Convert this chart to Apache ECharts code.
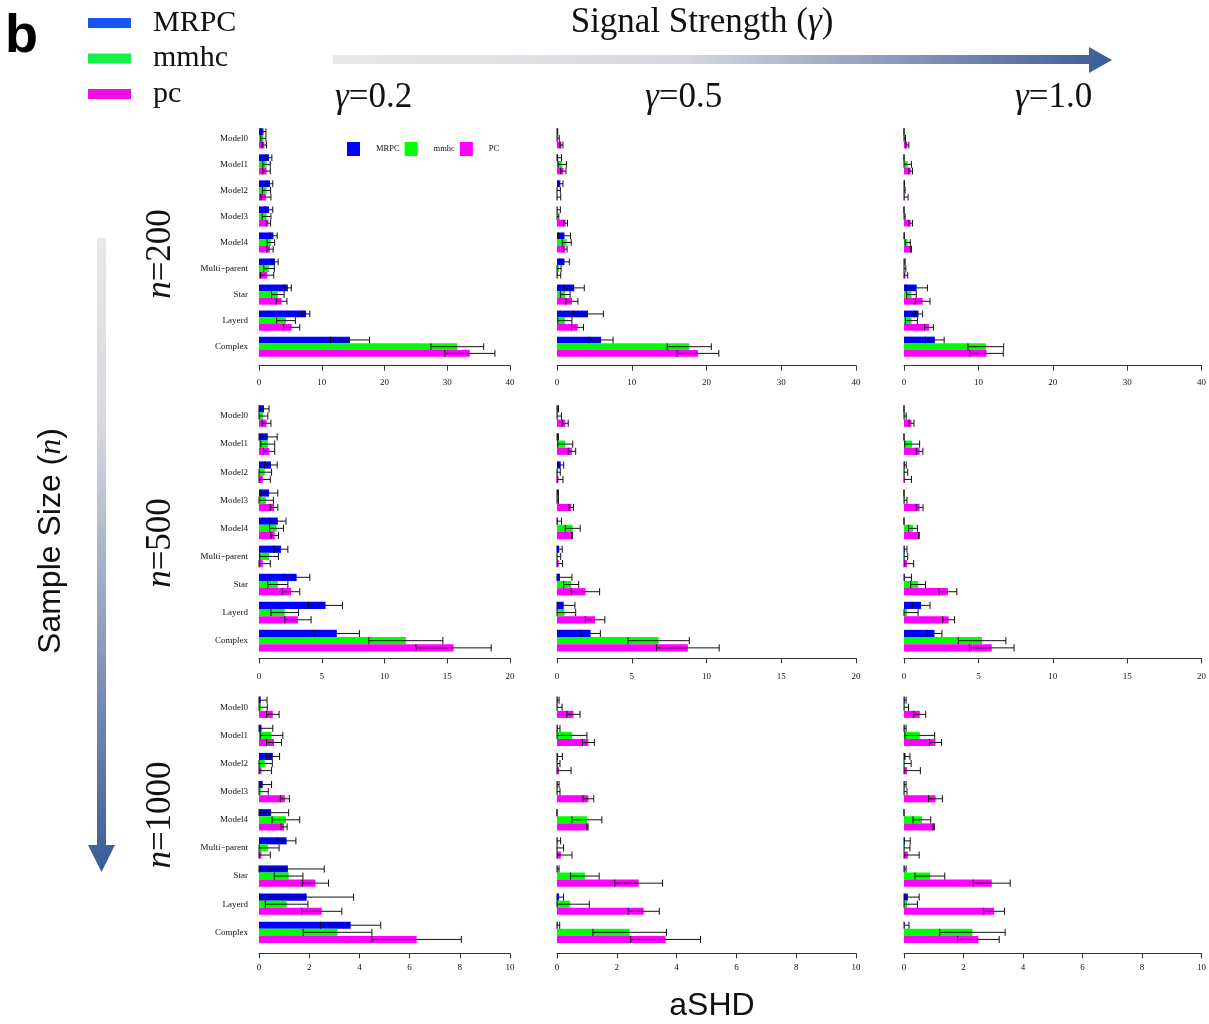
<!DOCTYPE html>
<html>
<head>
<meta charset="utf-8">
<script src="https://cdn.jsdelivr.net/npm/echarts@6/dist/echarts.min.js"></script>
<style>
  html, body { margin: 0; padding: 0; background: #fff; }
  #chart { width: 1209px; height: 1024px; }
</style>
</head>
<body>
<div id="chart"></div>
<script>
// categories and methods
const categories = ['Model0', 'Model1', 'Model2', 'Model3', 'Model4', 'Multi\u2212parent', 'Star', 'Layerd', 'Complex'];
const methods = ['MRPC', 'mmhc', 'pc'];
const signalLabels = ['0.2', '0.5', '1.0'];
const sampleLabels = ['200', '500', '1000'];

// x axis ranges per sample-size row
const xMax = [40, 20, 10];
const xStep = [10, 5, 2];

// panels in row order: n=200 (γ=0.2, 0.5, 1.0), n=500 (...), n=1000 (...)
const mrpcMean = [
  [0.7, 1.6, 1.75, 1.6, 2.3, 2.55, 4.6, 7.5, 14.5],
  [0.05, 0.15, 0.45, 0.05, 1.0, 1.0, 2.3, 4.15, 5.9],
  [0, 0, 0.02, 0, 0.02, 0.05, 1.7, 1.95, 4.15],
  [0.4, 0.7, 0.95, 0.8, 1.5, 1.75, 3.0, 5.3, 6.2],
  [0.05, 0.05, 0.25, 0.05, 0.05, 0.15, 0.2, 0.45, 2.25],
  [0, 0, 0.05, 0, 0, 0.05, 0.05, 1.15, 2.05],
  [0.07, 0.1, 0.55, 0.15, 0.48, 1.1, 1.15, 1.9, 3.65],
  [0.02, 0.02, 0.03, 0.02, 0, 0.02, 0.02, 0.07, 0.02],
  [0.02, 0.02, 0.05, 0.02, 0, 0.03, 0.02, 0.13, 0.02]
];
const mrpcSd = [
  [0.4, 0.45, 0.45, 0.6, 0.6, 0.5, 0.55, 0.6, 3.1],
  [0.05, 0.45, 0.35, 0.4, 0.8, 0.65, 1.35, 2.05, 1.6],
  [0, 0, 0.05, 0, 0.02, 0.1, 1.45, 0.55, 1.25],
  [0.4, 0.75, 0.5, 0.7, 0.65, 0.55, 1.05, 1.35, 1.8],
  [0.05, 0.05, 0.2, 0.05, 0.25, 0.2, 0.8, 0.75, 0.65],
  [0, 0, 0.1, 0, 0, 0.15, 0.45, 0.6, 0.5],
  [0.25, 0.45, 0.27, 0.35, 0.7, 0.37, 1.45, 1.87, 1.2],
  [0.05, 0.08, 0.15, 0.05, 0, 0.1, 0.05, 0.15, 0.07],
  [0.05, 0.05, 0.15, 0.05, 0, 0.18, 0.05, 0.38, 0.15]
];
const mmhcMean = [
  [0.7, 1.2, 1.2, 1.2, 1.9, 1.6, 3.0, 4.3, 31.6],
  [0.15, 0.7, 0.05, 0.1, 1.3, 0.25, 1.1, 1.05, 17.7],
  [0.1, 0.5, 0.05, 0.05, 0.5, 0.05, 1.0, 1.0, 11.0],
  [0.3, 0.7, 0.45, 0.55, 1.4, 0.8, 1.5, 2.05, 11.7],
  [0.05, 0.55, 0.07, 0.05, 1.05, 0.05, 0.95, 0.5, 6.8],
  [0.05, 0.55, 0.05, 0.05, 0.6, 0.05, 0.95, 0.2, 5.25],
  [0.08, 0.5, 0.23, 0.07, 1.07, 0.35, 1.18, 1.1, 3.13],
  [0.02, 0.5, 0.02, 0.02, 1.0, 0.02, 0.93, 0.43, 2.43],
  [0.02, 0.53, 0.02, 0.02, 0.6, 0.02, 0.87, 0.1, 2.3]
];
const mmhcSd = [
  [0.4, 0.6, 0.65, 0.7, 0.6, 0.85, 1.0, 1.5, 4.2],
  [0.15, 0.55, 0.4, 0.15, 0.6, 0.3, 0.65, 0.95, 2.95],
  [0.1, 0.5, 0.1, 0.1, 0.35, 0.2, 0.65, 0.8, 2.4],
  [0.4, 0.55, 0.55, 0.6, 0.55, 0.75, 0.8, 1.1, 2.95],
  [0.25, 0.5, 0.15, 0.05, 0.5, 0.2, 0.5, 0.75, 2.05],
  [0.1, 0.5, 0.2, 0.15, 0.3, 0.2, 0.5, 0.75, 1.6],
  [0.25, 0.45, 0.3, 0.3, 0.55, 0.45, 0.57, 0.85, 1.37],
  [0.15, 0.5, 0.08, 0.08, 0.5, 0.2, 0.48, 0.65, 1.23],
  [0.13, 0.5, 0.22, 0.08, 0.3, 0.18, 0.5, 0.35, 1.1]
];
const pcMean = [
  [0.85, 1.2, 1.1, 1.5, 1.75, 1.3, 3.6, 5.2, 33.6],
  [0.6, 0.85, 0.05, 1.15, 1.1, 0.1, 2.0, 2.75, 18.85],
  [0.45, 0.9, 0.1, 0.9, 0.95, 0.2, 2.5, 3.35, 11.1],
  [0.6, 0.8, 0.3, 1.2, 1.25, 0.3, 2.55, 3.1, 15.5],
  [0.55, 1.0, 0.1, 0.95, 1.0, 0.12, 1.9, 2.55, 8.75],
  [0.5, 1.05, 0.05, 1.05, 1.0, 0.2, 2.95, 3.0, 5.9],
  [0.55, 0.6, 0.1, 1.03, 1.0, 0.1, 2.25, 2.5, 6.28],
  [0.55, 1.05, 0.07, 1.05, 1.02, 0.13, 2.73, 2.9, 3.63],
  [0.53, 1.06, 0.1, 1.06, 1.0, 0.13, 2.95, 3.03, 2.5]
];
const pcSd = [
  [0.35, 0.6, 0.8, 0.35, 0.5, 1.05, 0.85, 1.3, 4.0],
  [0.2, 0.35, 0.45, 0.25, 0.25, 0.4, 0.8, 0.8, 2.8],
  [0.2, 0.25, 0.45, 0.25, 0.05, 0.3, 1.0, 0.6, 2.25],
  [0.35, 0.45, 0.6, 0.3, 0.3, 0.6, 0.7, 1.05, 3.0],
  [0.2, 0.25, 0.3, 0.15, 0.03, 0.25, 0.95, 0.65, 2.1],
  [0.17, 0.22, 0.45, 0.23, 0.03, 0.45, 0.6, 0.4, 1.5],
  [0.25, 0.3, 0.4, 0.18, 0.12, 0.35, 0.52, 0.8, 1.78],
  [0.22, 0.2, 0.4, 0.18, 0.02, 0.37, 0.8, 0.52, 1.17],
  [0.2, 0.2, 0.45, 0.23, 0.02, 0.38, 0.62, 0.35, 0.7]
];

const means = [mrpcMean, mmhcMean, pcMean];
const sds = [mrpcSd, mmhcSd, pcSd];

// layout (pixels)
const barColors = ['#0000FF', '#00FF00', '#FF00FF'];
const legendColors = ['#1557F1', '#14F24A', '#EE10E2'];
const colLeft = [259, 557, 904];
const colWidth = [251, 299, 298];
const rowTop = [125.3, 402, 693.2];
const rowHeight = [234.4, 252.7, 253.2];
const rowAxisOffset = [6, 3.6, 7];
const rowLabelMargin = [12, 13.5, 10];
const rowBarWidth = [6.7, 7.2, 7.1];

const serif = "'Liberation Serif', 'DejaVu Serif', serif";
const sans = "'Liberation Sans', Arial, sans-serif";

const grids = [], xAxes = [], yAxes = [], series = [];

for (let p = 0; p < 9; p++) {
  const row = Math.floor(p / 3), col = p % 3;
  const bw = rowBarWidth[row];
  grids.push({
    left: colLeft[col], top: rowTop[row],
    width: colWidth[col], height: rowHeight[row],
    containLabel: false
  });
  xAxes.push({
    gridIndex: p, type: 'value', min: 0, max: xMax[row], interval: xStep[row],
    offset: rowAxisOffset[row],
    axisLine: { show: true, lineStyle: { color: '#333', width: 1 } },
    axisTick: { show: true, length: 5, lineStyle: { color: '#333' } },
    axisLabel: { fontSize: 9, fontFamily: serif, color: '#111', margin: rowLabelMargin[row] },
    splitLine: { show: false }
  });
  yAxes.push({
    gridIndex: p, type: 'category', data: categories, inverse: true,
    axisLine: { show: false }, axisTick: { show: false },
    axisLabel: { show: col === 0, fontSize: 9, fontFamily: serif, color: '#111', margin: 11 }
  });
  methods.forEach((m, k) => {
    series.push({
      name: m, type: 'bar', xAxisIndex: p, yAxisIndex: p,
      data: means[k][p], barWidth: bw, barGap: '0%',
      itemStyle: { color: barColors[k] },
      silent: true, animation: false
    });
  });
  methods.forEach((m, k) => {
    series.push({
      type: 'custom', xAxisIndex: p, yAxisIndex: p,
      data: categories.map((c, i) => [i, means[k][p][i], sds[k][p][i]]),
      encode: { x: [1, 2], y: 0 },
      silent: true, animation: false, z: 5,
      renderItem: (params, api) => {
        const i = api.value(0), mean = api.value(1), sd = api.value(2);
        const a = api.coord([Math.max(0, mean - sd), i]);
        const b = api.coord([mean + sd, i]);
        const y = a[1] + (k - 1) * bw;
        const h = bw / 2;
        const st = { stroke: '#111', lineWidth: 1 };
        return {
          type: 'group', children: [
            { type: 'line', shape: { x1: a[0], y1: y, x2: b[0], y2: y }, style: st },
            { type: 'line', shape: { x1: a[0], y1: y - h, x2: a[0], y2: y + h }, style: st },
            { type: 'line', shape: { x1: b[0], y1: y - h, x2: b[0], y2: y + h }, style: st }
          ]
        };
      }
    });
  });
}

const grad = (x1, y1, x2, y2, stops) => new echarts.graphic.LinearGradient(x1, y1, x2, y2, stops, true);

const graphic = [
  { type: 'text', style: { text: 'b', x: 5, y: 37, font: "bold 54px 'Liberation Sans', Arial, sans-serif", fill: '#000', verticalAlign: 'middle' } },
  {
    type: 'text', style: {
      text: 'Signal Strength ({i|\u03b3})', x: 702, y: 23, align: 'center', verticalAlign: 'middle',
      fontSize: 35, fontFamily: serif, fill: '#111',
      rich: { i: { fontStyle: 'italic', fontSize: 35, fontFamily: serif, fill: '#111' } }
    }
  },
  {
    type: 'polygon',
    shape: { points: [[333, 55], [1089, 55], [1089, 47], [1112, 60], [1089, 73], [1089, 64], [333, 64]] },
    style: { fill: grad(333, 0, 1112, 0, [{ offset: 0, color: '#E8E8E8' }, { offset: 0.45, color: '#D6D8DD' }, { offset: 1, color: '#3B5B97' }]) }
  },
  {
    type: 'polygon',
    shape: { points: [[97, 238], [106, 238], [106, 845], [115, 845], [101.5, 872], [88, 845], [97, 845]] },
    style: { fill: grad(0, 238, 0, 872, [{ offset: 0, color: '#E8E8E8' }, { offset: 0.3, color: '#D6D8DD' }, { offset: 1, color: '#3B5B97' }]) }
  },
  {
    type: 'text', rotation: Math.PI / 2, x: 51.5, y: 541,
    style: {
      text: 'Sample Size ({i|n})', x: 0, y: 0, align: 'center', verticalAlign: 'middle',
      fontSize: 32, fontFamily: sans, fill: '#111',
      rich: { i: { fontStyle: 'italic', fontSize: 32, fontFamily: serif, fill: '#111' } }
    }
  },
  {
    type: 'text', style: {
      text: 'aSHD', x: 712, y: 1006, align: 'center', verticalAlign: 'middle',
      fontSize: 32, fontFamily: sans, fill: '#111'
    }
  }
];

const gammaX = [335, 645, 1015];
signalLabels.forEach((g, j) => {
  graphic.push({
    type: 'text', style: {
      text: '{i|\u03b3}=' + g, x: gammaX[j], y: 98, align: 'left', verticalAlign: 'middle',
      fontSize: 35, fontFamily: serif, fill: '#111',
      rich: { i: { fontStyle: 'italic', fontSize: 35, fontFamily: serif, fill: '#111' } }
    }
  });
});
const sampleY = [254, 543, 815];
sampleLabels.forEach((n, j) => {
  graphic.push({
    type: 'text', rotation: Math.PI / 2, x: 161, y: sampleY[j],
    style: {
      text: '{i|n}=' + n, x: 0, y: 0, align: 'center', verticalAlign: 'middle',
      fontSize: 35, fontFamily: serif, fill: '#111',
      rich: { i: { fontStyle: 'italic', fontSize: 35, fontFamily: serif, fill: '#111' } }
    }
  });
});

const chart = echarts.init(document.getElementById('chart'), null, { renderer: 'canvas' });
chart.setOption({
  animation: false,
  backgroundColor: '#fff',
  legend: [
    {
      data: methods, left: 347, top: 142, padding: 0, icon: 'rect', itemWidth: 13, itemHeight: 14, itemGap: 5,
      selectedMode: false,
      formatter: (name) => name === 'pc' ? 'PC' : name,
      textStyle: { fontSize: 8.5, fontFamily: serif, color: '#111', padding: [0, 0, 0, 11] }
    },
    {
      data: methods.map((m, k) => ({ name: m, itemStyle: { color: legendColors[k] } })),
      orient: 'vertical', left: 88, top: 8, padding: 0, icon: 'rect', itemWidth: 43, itemHeight: 10, itemGap: 5.5,
      selectedMode: false,
      textStyle: { fontSize: 30, fontFamily: serif, color: '#111', padding: [0, 0, 0, 17] }
    }
  ],
  grid: grids,
  xAxis: xAxes,
  yAxis: yAxes,
  series: series,
  graphic: graphic
});
</script>
</body>
</html>
